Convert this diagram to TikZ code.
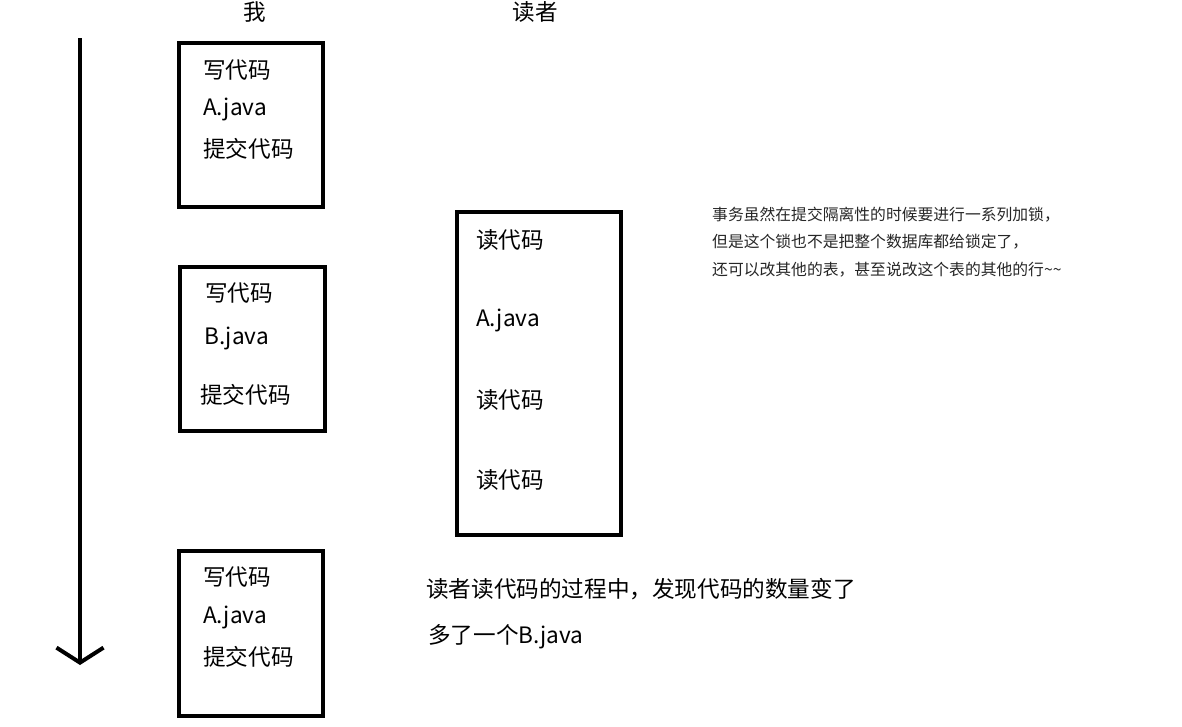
\documentclass[tikz,border=0pt]{standalone}
\usepackage{fontspec}
\setmainfont{Noto Sans CJK SC}
\usetikzlibrary{arrows.meta}

\begin{document}
\begin{tikzpicture}[x=1pt, y=-1pt, >={Straight Barb[length=15pt,width=47pt]},
	every node/.style={font=\fontsize{22.6}{26}\selectfont, inner sep=0pt},
	box/.style={draw, line width=4pt, minimum width=144pt, minimum height=164pt},
	line/.style={anchor=west},
	note/.style={anchor=west, font=\fontsize{15.8}{18}\selectfont, text=black!85}]
	\useasboundingbox (0,0) rectangle (1182,726);
	% time axis
	\coordinate (tstart) at (80,38);
	\coordinate (tend) at (80,665);
	\draw[->, line width=4pt] (tstart) -- (tend);
	% column titles
	\node (me) at (255,12) {我};
	\node (reader) at (535,12) {读者};
	% my transactions
	\node[box] (w1) at (251,125) {};
	\node[line] (w1a) at (203,70) {写代码};
	\node[line] (w1b) at (203,109) {A.java};
	\node[line] (w1c) at (203,149) {提交代码};
	\node[box, minimum width=145pt] (w2) at (252.5,349) {};
	\node[line] (w2a) at (205,293) {写代码};
	\node[line] (w2b) at (204,338) {B.java};
	\node[line] (w2c) at (200,395) {提交代码};
	\node[box, minimum height=165pt] (w3) at (251,633.5) {};
	\node[line] (w3a) at (203,577) {写代码};
	\node[line] (w3b) at (203,617) {A.java};
	\node[line] (w3c) at (203,657) {提交代码};
	% reader transaction
	\node[box, minimum width=164pt, minimum height=323pt] (r) at (539,373.5) {};
	\node[line] (ra) at (476,240) {读代码};
	\node[line] (rb) at (476,320) {A.java};
	\node[line] (rc) at (476,400) {读代码};
	\node[line] (rd) at (476,480) {读代码};
	% remarks
	\node[line] (phantom1) at (426,589) {读者读代码的过程中，发现代码的数量变了};
	\node[line] (phantom2) at (428,637) {多了一个B.java};
	\node[note] (n1) at (712,215) {事务虽然在提交隔离性的时候要进行一系列加锁，};
	\node[note] (n2) at (712,242) {但是这个锁也不是把整个数据库都给锁定了，};
	\node[note] (n3) at (712,270) {还可以改其他的表，甚至说改这个表的其他的行\char`\~\char`\~};
\end{tikzpicture}
\end{document}
